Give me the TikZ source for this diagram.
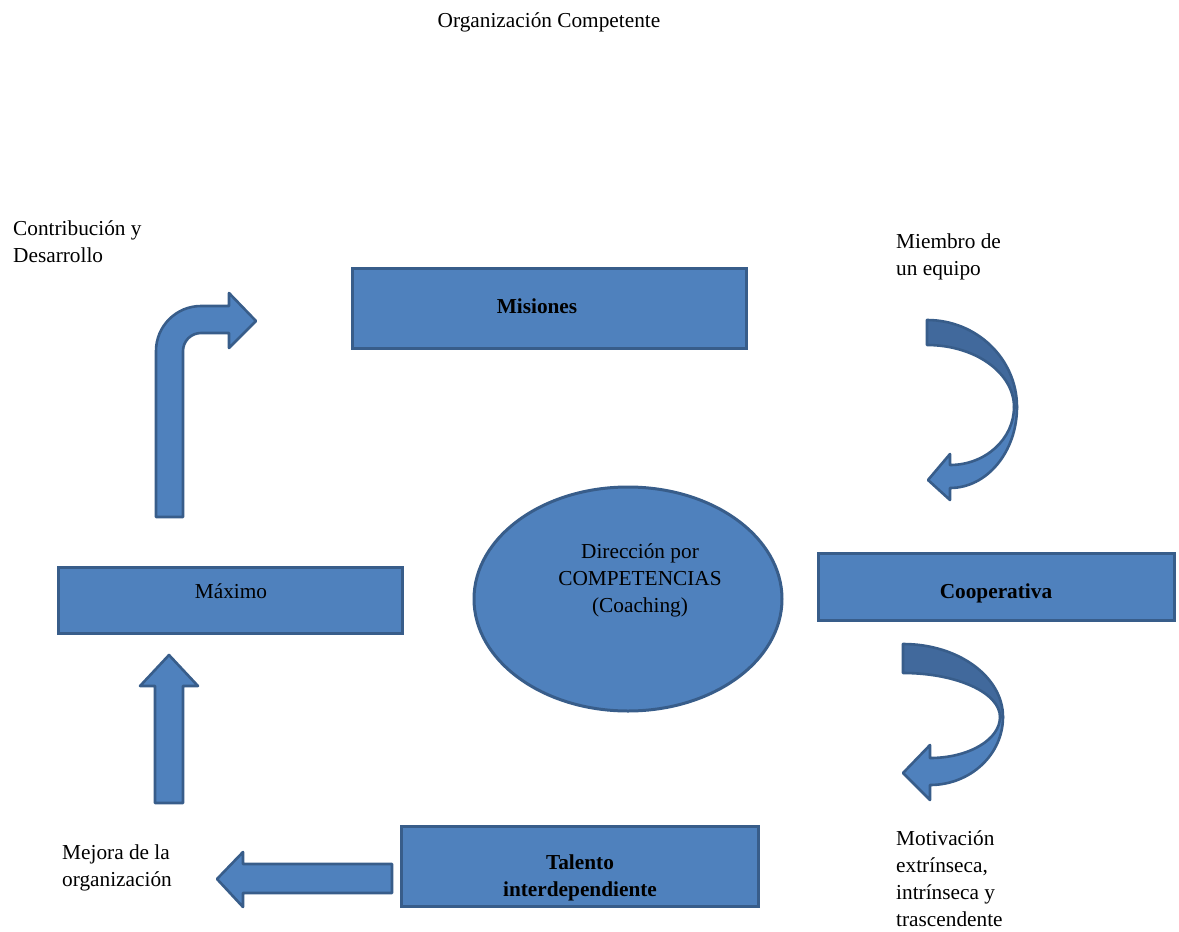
\documentclass[tikz,border=0pt]{standalone}
\usepackage{fontspec}
\setmainfont{Liberation Serif}
\usetikzlibrary{shapes.geometric}
\definecolor{boxfill}{HTML}{4F81BD}
\definecolor{boxline}{HTML}{385D8A}
\definecolor{backfill}{HTML}{41699C}
\newcommand\txtlines[2][l]{\begin{tabular}[t]{@{}#1@{}}#2\end{tabular}}
\tikzset{
  box/.style={draw=boxline, fill=boxfill, line width=3pt, inner sep=0pt},
  blockarrow/.style={draw=boxline, fill=boxfill, line width=2.6pt, line join=round},
  backband/.style={draw=boxline, fill=backfill, line width=2.6pt, line join=round},
  lbl/.style={inner sep=0pt, font=\fontsize{21.3}{27}\selectfont},
}
\begin{document}
\begin{tikzpicture}[x=1pt, y=-1pt]
\useasboundingbox (0,0) rectangle (1179,932);

% title
\node[lbl, anchor=base] (title) at (549,27) {Organización Competente};

% boxes
\node[box, minimum width=394pt, minimum height=80pt] (misiones) at (549,308) {};
\node[box, minimum width=356pt, minimum height=67pt] (coop) at (996,586.5) {};
\node[box, minimum width=344pt, minimum height=66pt] (maximo) at (230,600) {};
\node[box, minimum width=357pt, minimum height=80pt] (talento) at (579.5,866) {};
\node[box, ellipse, minimum width=308pt, minimum height=224pt] (centro) at (628,599) {};

% texts inside the shapes
\node[lbl, anchor=base, font=\fontsize{21.3}{27}\selectfont\bfseries] (misionesT) at (537,313) {Misiones};
\node[lbl, anchor=base, font=\fontsize{21.3}{27}\selectfont\bfseries] (coopT) at (996,598) {Cooperativa};
\node[lbl, anchor=base] (maximoT) at (231,598) {Máximo};
\node[lbl, anchor=base, font=\fontsize{21.3}{27}\selectfont\bfseries] (talentoT) at (580,869) {\txtlines[c]{Talento\\interdependiente}};
\node[lbl, anchor=base] (centroT) at (640,558) {\txtlines[c]{Dirección por\\COMPETENCIAS\\(Coaching)}};

% free labels
\node[lbl, anchor=base west] (contrib) at (13,235) {\txtlines{Contribución y\\Desarrollo}};
\node[lbl, anchor=base west] (miembro) at (896,248) {\txtlines{Miembro de\\un equipo}};
\node[lbl, anchor=base west] (mejora) at (62,859) {\txtlines{Mejora de la\\organización}};
\node[lbl, anchor=base west] (motiv) at (896,845) {\txtlines{Motivación\\extrínseca,\\intrínseca y\\trascendente}};

% bent arrow: up then right
\draw[blockarrow] (156,517) -- (156,351)
  arc[start angle=180, end angle=270, radius=45] -- (229,306) -- (229,293)
  -- (256,321) -- (229,348) -- (229,333) -- (201,333)
  arc[start angle=270, end angle=180, radius=18] -- (183,517) -- cycle;

% straight up arrow
\draw[blockarrow] (155,803) -- (155,686) -- (140,686) -- (169,655)
  -- (198,686) -- (183,686) -- (183,803) -- cycle;

% straight left arrow
\draw[blockarrow] (392,864) -- (243,864) -- (243,852) -- (217,879)
  -- (243,907) -- (243,893) -- (392,893) -- cycle;

% curved arrow (upper right): back band, then front band with head
\draw[backband] (927,320)
  arc[start angle=270, end angle=360, x radius=90, y radius=87]
  -- (1014,407)
  arc[start angle=360, end angle=270, x radius=87, y radius=62] -- cycle;
\draw[blockarrow] (1017,407)
  arc[start angle=0, end angle=90, x radius=67, y radius=81]
  -- (950,500) -- (928,480) -- (950,454) -- (950,465)
  arc[start angle=90, end angle=0, x radius=64, y radius=58] -- cycle;

% curved arrow (lower right)
\draw[backband] (903,644)
  arc[start angle=270, end angle=360, x radius=100, y radius=73]
  -- (1000,717)
  arc[start angle=360, end angle=270, x radius=97, y radius=44] -- cycle;
\draw[blockarrow] (1003,717)
  arc[start angle=0, end angle=90, x radius=73, y radius=68]
  -- (930,800) -- (903,773) -- (930,745) -- (930,758)
  arc[start angle=90, end angle=0, x radius=70, y radius=41] -- cycle;
\end{tikzpicture}
\end{document}
